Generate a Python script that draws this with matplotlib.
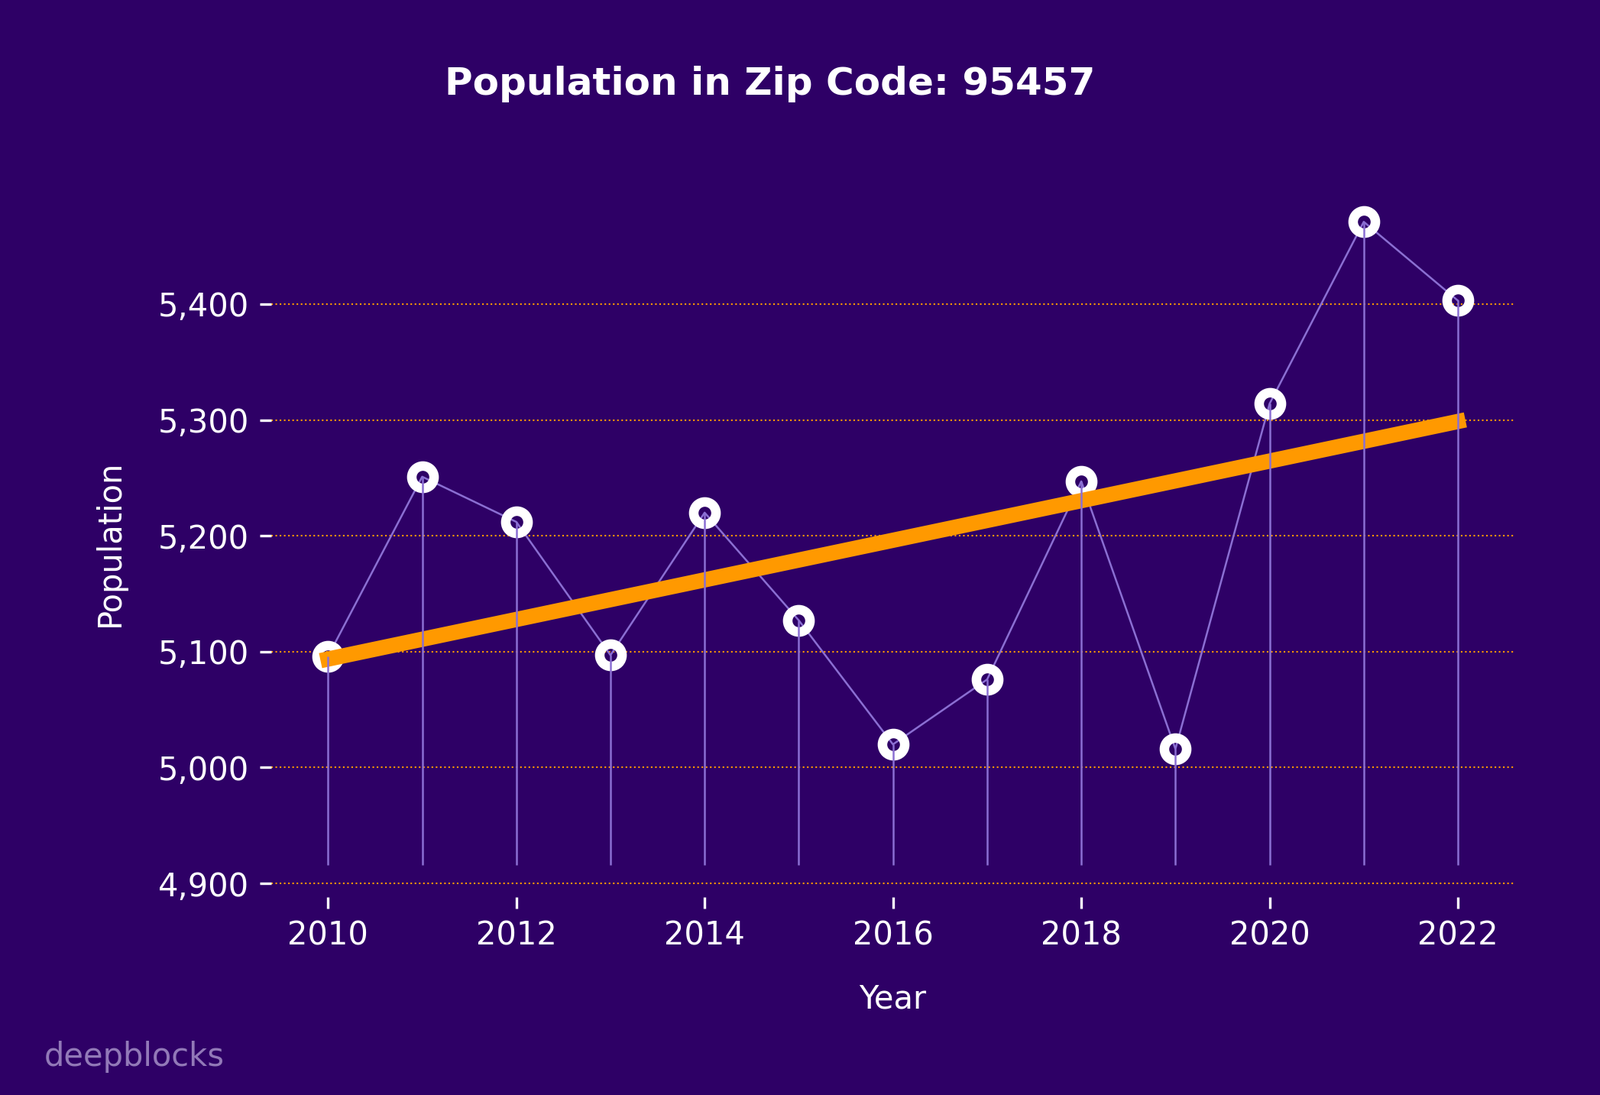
import matplotlib.pyplot as plt
import numpy as np
from matplotlib.ticker import FuncFormatter

years = [2010, 2011, 2012, 2013, 2014, 2015, 2016, 2017, 2018, 2019, 2020, 2021, 2022]
population = [5096, 5251, 5212, 5097, 5220, 5127, 5020, 5076, 5247, 5016, 5314, 5471, 5403]

BG = "#2e0066"
ORANGE = "#ff9900"
PURPLE = "#8b6fd3"

fig = plt.figure(figsize=(2094 / 300, 1433 / 300), dpi=300, facecolor=BG)
ax = fig.add_axes([0.1697, 0.1808, 0.7768, 0.646], facecolor=BG)

x = np.array(years)
y = np.array(population)

ax.plot(x, y, color=PURPLE, lw=0.6, zorder=2)
ax.plot(x, y, ls="none", marker="o", ms=7, mew=3, mec="white", mfc="none", zorder=3)

# linear trend over the years
slope, icpt = np.polyfit(x, y, 1)
ax.plot(x, slope * x + icpt, color=ORANGE, lw=4.8, zorder=4)

ax.vlines(x, y.min() - 100, y, color=PURPLE, lw=0.6, zorder=5)

ax.grid(axis="y", color=ORANGE, ls=":", lw=0.5)
ax.set_axisbelow(True)
for s in ax.spines.values():
    s.set_visible(False)
ax.tick_params(colors="white", labelsize=10)
ax.yaxis.set_major_formatter(FuncFormatter(lambda v, p: f"{v:,.0f}"))

ax.set_xlabel("Year", color="white", fontsize=10, labelpad=10)
ax.set_ylabel("Population", color="white", fontsize=10, labelpad=10)

fig.text(0.4813, 0.9135, "Population in Zip Code: 95457", color="white",
         fontsize=12, fontweight="bold", ha="center", va="baseline")
fig.text(0.0277, 0.0265, "deepblocks", color="#9279b8", fontsize=10, va="baseline")

fig.savefig("out.png", dpi=300, facecolor=BG)
